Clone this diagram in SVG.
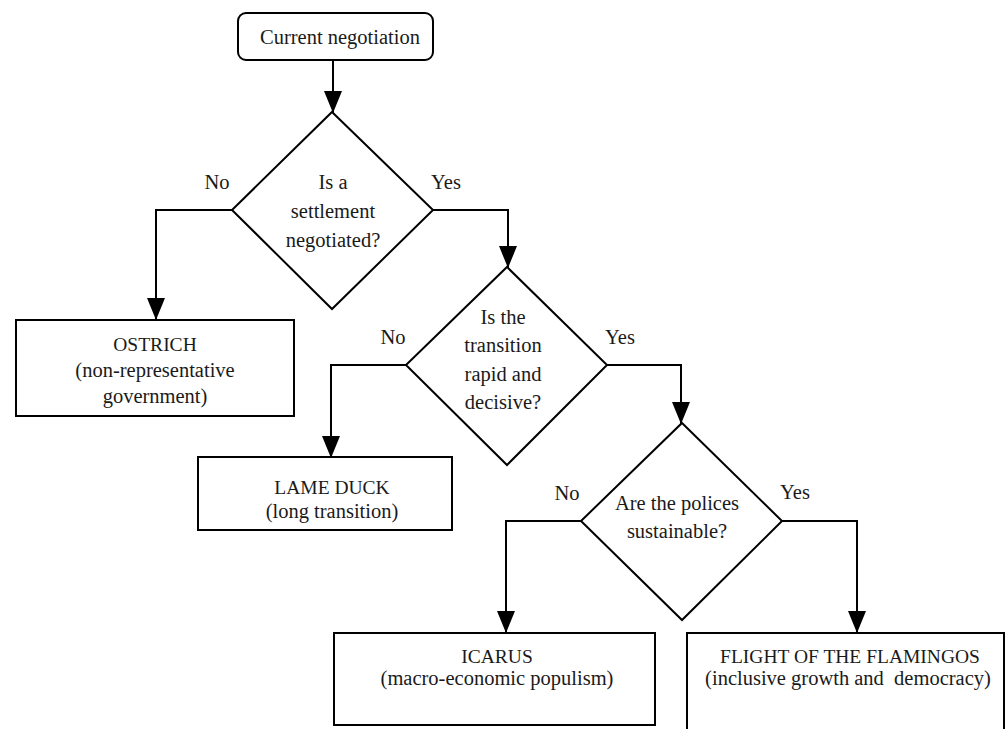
<svg xmlns="http://www.w3.org/2000/svg" width="1005" height="729" viewBox="0 0 1005 729">
<style>
.s{fill:#fff;stroke:#000;stroke-width:2}
.c{fill:none;stroke:#000;stroke-width:2}
text{font-family:"Liberation Serif","Times New Roman",serif;font-size:20.5px;fill:#1a1a1a;text-anchor:middle}
.u{font-size:19.5px}
</style>
<defs>
<marker id="ah" markerUnits="userSpaceOnUse" markerWidth="22" markerHeight="18" refX="22" refY="9" orient="auto" viewBox="0 0 22 18">
<path d="M0,0 L22,9 L0,18 z" fill="#000"/>
</marker>
</defs>
<rect width="1005" height="729" fill="#fff"/>
<g id="connectors">
<path class="c" d="M333,60 V113" marker-end="url(#ah)"/>
<path class="c" d="M232,210 H156 V320" marker-end="url(#ah)"/>
<path class="c" d="M433,210 H508 V268" marker-end="url(#ah)"/>
<path class="c" d="M406,365 H331 V458" marker-end="url(#ah)"/>
<path class="c" d="M607,365 H681 V424" marker-end="url(#ah)"/>
<path class="c" d="M581,521 H506 V633" marker-end="url(#ah)"/>
<path class="c" d="M782,521 H857 V633" marker-end="url(#ah)"/>
</g>
<g id="labels">
<text x="217" y="189">No</text>
<text x="446" y="189">Yes</text>
<text x="393" y="344">No</text>
<text x="620" y="344">Yes</text>
<text x="567" y="500">No</text>
<text x="795" y="499">Yes</text>
</g>
<g id="start">
<rect class="s" x="238" y="13" width="195" height="47" rx="8"/>
<text x="340" y="44">Current negotiation</text>
</g>
<g id="d1">
<polygon class="s" points="332,112 433,210 332,309 232,210"/>
<text x="333" y="189">Is a</text>
<text x="333" y="218">settlement</text>
<text x="333" y="247">negotiated?</text>
</g>
<g id="ostrich">
<rect class="s" x="16" y="320" width="278" height="96"/>
<text class="u" x="155" y="351">OSTRICH</text>
<text x="155" y="377">(non-representative</text>
<text x="155" y="403">government)</text>
</g>
<g id="d2">
<polygon class="s" points="507,267 607,365 507,465 406,365"/>
<text x="503" y="324">Is the</text>
<text x="503" y="352">transition</text>
<text x="503" y="381">rapid and</text>
<text x="503" y="409">decisive?</text>
</g>
<g id="lameduck">
<rect class="s" x="198" y="457" width="254" height="73"/>
<text class="u" x="332" y="494">LAME DUCK</text>
<text x="332" y="518">(long transition)</text>
</g>
<g id="d3">
<polygon class="s" points="682,423 782,521 682,620 581,521"/>
<text x="677" y="510">Are the polices</text>
<text x="677" y="538">sustainable?</text>
</g>
<g id="icarus">
<rect class="s" x="334" y="633" width="321" height="92"/>
<text class="u" x="497" y="663">ICARUS</text>
<text x="497" y="685">(macro-economic populism)</text>
</g>
<g id="flamingos">
<rect class="s" x="687" y="633" width="317" height="110"/>
<text class="u" x="850" y="663">FLIGHT OF THE FLAMINGOS</text>
<text x="848" y="685" xml:space="preserve">(inclusive growth and  democracy)</text>
</g>
</svg>
